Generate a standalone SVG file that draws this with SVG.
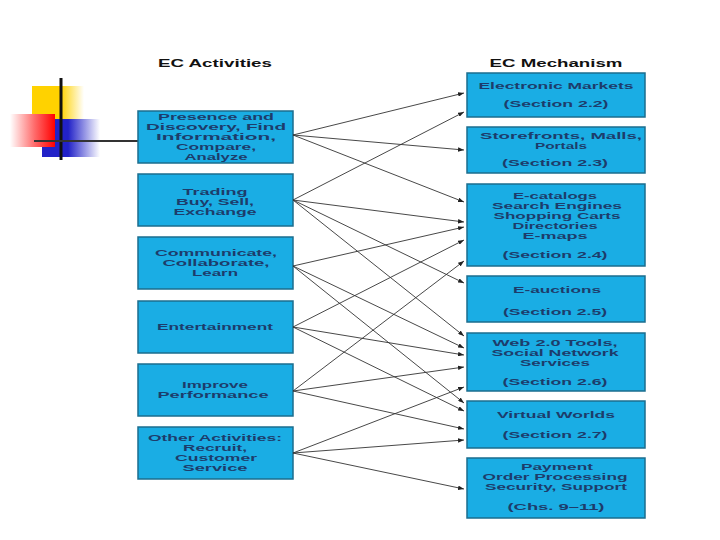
<svg xmlns="http://www.w3.org/2000/svg" width="720" height="540" viewBox="0 0 720 540">
<defs>
<linearGradient id="gy" x1="0" y1="0" x2="1" y2="0"><stop offset="0" stop-color="#ffd200"/><stop offset="0.55" stop-color="#ffd200"/><stop offset="1" stop-color="#ffffff"/></linearGradient>
<linearGradient id="gr" x1="0" y1="0" x2="1" y2="0"><stop offset="0" stop-color="#ffffff"/><stop offset="0.55" stop-color="#ff6a6a"/><stop offset="1" stop-color="#ff0000"/></linearGradient>
<linearGradient id="gb" x1="0" y1="0" x2="1" y2="0"><stop offset="0" stop-color="#2222c8"/><stop offset="0.45" stop-color="#2222c8"/><stop offset="1" stop-color="#ffffff"/></linearGradient>
<marker id="ah" viewBox="0 0 8 6" refX="8" refY="3" markerWidth="6" markerHeight="4.5" orient="auto" markerUnits="userSpaceOnUse"><path d="M0,0 L8,3 L0,6 z" fill="#222"/></marker>
</defs>
<style>
.box{fill:#1aade4;stroke:#1b6e8e;stroke-width:1.5}
.t{font-family:"Liberation Sans",Arial,sans-serif;font-size:9px;font-weight:bold;fill:#1d3c6b;text-anchor:middle}
.h{font-family:"Liberation Sans",Arial,sans-serif;font-size:10.5px;font-weight:bold;fill:#111;text-anchor:middle}
.c line{stroke:#333;stroke-width:0.9;marker-end:url(#ah)}
</style>
<rect width="720" height="540" fill="#ffffff"/>
<g id="decoration">
<rect x="32" y="86" width="52" height="48" fill="url(#gy)"/>
<rect x="42" y="119" width="58" height="38" fill="url(#gb)"/>
<rect x="10" y="114" width="45" height="33" fill="url(#gr)"/>
<line x1="61" y1="78" x2="61" y2="160" stroke="#111" stroke-width="3"/>
<line x1="34" y1="141" x2="138" y2="141" stroke="#333" stroke-width="2"/>
</g>
<text class="h" x="215" y="67" textLength="114" lengthAdjust="spacingAndGlyphs">EC Activities</text>
<text class="h" x="556" y="67" textLength="133" lengthAdjust="spacingAndGlyphs">EC Mechanism</text>
<g id="a1"><rect class="box" x="138" y="111" width="155" height="52"/>
<text class="t" x="216" y="120.3" textLength="116" lengthAdjust="spacingAndGlyphs">Presence and</text>
<text class="t" x="216" y="130.3" textLength="140" lengthAdjust="spacingAndGlyphs">Discovery, Find</text>
<text class="t" x="216" y="140.3" textLength="120" lengthAdjust="spacingAndGlyphs">Information,</text>
<text class="t" x="216" y="150.3" textLength="80" lengthAdjust="spacingAndGlyphs">Compare,</text>
<text class="t" x="216" y="160.3" textLength="63" lengthAdjust="spacingAndGlyphs">Analyze</text></g>
<g id="a2"><rect class="box" x="138" y="174" width="155" height="52"/>
<text class="t" x="215" y="195.3" textLength="65" lengthAdjust="spacingAndGlyphs">Trading</text>
<text class="t" x="215" y="205.3" textLength="78" lengthAdjust="spacingAndGlyphs">Buy, Sell,</text>
<text class="t" x="215" y="215.3" textLength="83" lengthAdjust="spacingAndGlyphs">Exchange</text></g>
<g id="a3"><rect class="box" x="138" y="237" width="155" height="52"/>
<text class="t" x="216" y="256.3" textLength="122" lengthAdjust="spacingAndGlyphs">Communicate,</text>
<text class="t" x="216" y="266.3" textLength="107" lengthAdjust="spacingAndGlyphs">Collaborate,</text>
<text class="t" x="215" y="276.3" textLength="46" lengthAdjust="spacingAndGlyphs">Learn</text></g>
<g id="a4"><rect class="box" x="138" y="301" width="155" height="52"/>
<text class="t" x="215" y="330.3" textLength="116" lengthAdjust="spacingAndGlyphs">Entertainment</text></g>
<g id="a5"><rect class="box" x="138" y="364" width="155" height="52"/>
<text class="t" x="215" y="388.3" textLength="66" lengthAdjust="spacingAndGlyphs">Improve</text>
<text class="t" x="213" y="398.3" textLength="111" lengthAdjust="spacingAndGlyphs">Performance</text></g>
<g id="a6"><rect class="box" x="138" y="427" width="155" height="52"/>
<text class="t" x="215" y="441.3" textLength="134" lengthAdjust="spacingAndGlyphs">Other Activities:</text>
<text class="t" x="215" y="451.3" textLength="64" lengthAdjust="spacingAndGlyphs">Recruit,</text>
<text class="t" x="216" y="461.3" textLength="82" lengthAdjust="spacingAndGlyphs">Customer</text>
<text class="t" x="215" y="471.3" textLength="65" lengthAdjust="spacingAndGlyphs">Service</text></g>
<g id="m1"><rect class="box" x="467" y="73" width="178" height="44"/>
<text class="t" x="556" y="89.3" textLength="155" lengthAdjust="spacingAndGlyphs">Electronic Markets</text>
<text class="t" x="556" y="107.3" textLength="105" lengthAdjust="spacingAndGlyphs">(Section 2.2)</text></g>
<g id="m2"><rect class="box" x="467" y="127" width="178" height="46"/>
<text class="t" x="561" y="139.3" textLength="162" lengthAdjust="spacingAndGlyphs">Storefronts, Malls,</text>
<text class="t" x="561" y="149.3" textLength="52" lengthAdjust="spacingAndGlyphs">Portals</text>
<text class="t" x="555" y="166.3" textLength="106" lengthAdjust="spacingAndGlyphs">(Section 2.3)</text></g>
<g id="m3"><rect class="box" x="467" y="184" width="178" height="82"/>
<text class="t" x="555" y="199.3" textLength="84" lengthAdjust="spacingAndGlyphs">E-catalogs</text>
<text class="t" x="557" y="209.3" textLength="130" lengthAdjust="spacingAndGlyphs">Search Engines</text>
<text class="t" x="557" y="219.3" textLength="127" lengthAdjust="spacingAndGlyphs">Shopping Carts</text>
<text class="t" x="555" y="229.3" textLength="85" lengthAdjust="spacingAndGlyphs">Directories</text>
<text class="t" x="555" y="239.3" textLength="65" lengthAdjust="spacingAndGlyphs">E-maps</text>
<text class="t" x="555" y="258.3" textLength="105" lengthAdjust="spacingAndGlyphs">(Section 2.4)</text></g>
<g id="m4"><rect class="box" x="467" y="276" width="178" height="46"/>
<text class="t" x="557" y="293.3" textLength="88" lengthAdjust="spacingAndGlyphs">E-auctions</text>
<text class="t" x="555" y="315.3" textLength="104" lengthAdjust="spacingAndGlyphs">(Section 2.5)</text></g>
<g id="m5"><rect class="box" x="467" y="333" width="178" height="58"/>
<text class="t" x="555" y="346.3" textLength="125" lengthAdjust="spacingAndGlyphs">Web 2.0 Tools,</text>
<text class="t" x="555" y="356.3" textLength="127" lengthAdjust="spacingAndGlyphs">Social Network</text>
<text class="t" x="555" y="366.3" textLength="70" lengthAdjust="spacingAndGlyphs">Services</text>
<text class="t" x="555" y="385.3" textLength="105" lengthAdjust="spacingAndGlyphs">(Section 2.6)</text></g>
<g id="m6"><rect class="box" x="467" y="401" width="178" height="47"/>
<text class="t" x="556" y="418.3" textLength="118" lengthAdjust="spacingAndGlyphs">Virtual Worlds</text>
<text class="t" x="555" y="438.3" textLength="105" lengthAdjust="spacingAndGlyphs">(Section 2.7)</text></g>
<g id="m7"><rect class="box" x="467" y="458" width="178" height="60"/>
<text class="t" x="557" y="470.3" textLength="72" lengthAdjust="spacingAndGlyphs">Payment</text>
<text class="t" x="555" y="480.3" textLength="145" lengthAdjust="spacingAndGlyphs">Order Processing</text>
<text class="t" x="556" y="490.3" textLength="142" lengthAdjust="spacingAndGlyphs">Security, Support</text>
<text class="t" x="556" y="510.3" textLength="97" lengthAdjust="spacingAndGlyphs">(Chs. 9–11)</text></g>
<g id="connectors" class="c">
<line x1="293" y1="135" x2="464" y2="93"/>
<line x1="293" y1="135" x2="464" y2="150"/>
<line x1="293" y1="135" x2="464" y2="202"/>
<line x1="293" y1="200" x2="464" y2="112"/>
<line x1="293" y1="200" x2="464" y2="222"/>
<line x1="293" y1="200" x2="464" y2="283"/>
<line x1="293" y1="200" x2="464" y2="336"/>
<line x1="293" y1="266" x2="464" y2="227"/>
<line x1="293" y1="266" x2="464" y2="348"/>
<line x1="293" y1="266" x2="464" y2="403"/>
<line x1="293" y1="327" x2="464" y2="240"/>
<line x1="293" y1="327" x2="464" y2="355"/>
<line x1="293" y1="327" x2="464" y2="411"/>
<line x1="293" y1="391" x2="464" y2="261"/>
<line x1="293" y1="391" x2="464" y2="367"/>
<line x1="293" y1="391" x2="464" y2="429"/>
<line x1="293" y1="453" x2="464" y2="387"/>
<line x1="293" y1="453" x2="464" y2="440"/>
<line x1="293" y1="453" x2="464" y2="489"/>
</g>
</svg>
